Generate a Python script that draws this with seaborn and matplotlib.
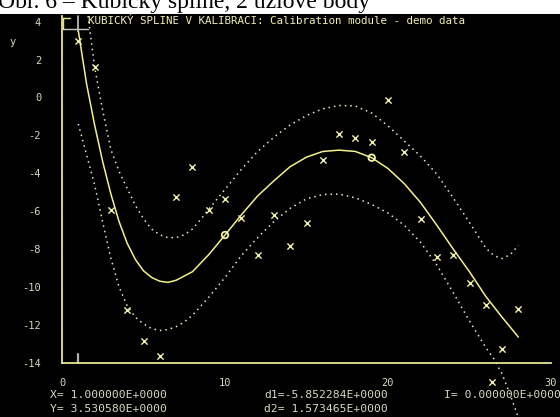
import matplotlib
matplotlib.use("Agg")
import matplotlib.pyplot as plt
import seaborn as sns
import pandas as pd
from matplotlib.patches import Rectangle

# ---------------- data ----------------
pts_x = [1, 2, 3, 4, 5, 6, 7, 8, 9, 10, 11, 12, 13, 14, 15, 16, 17, 18, 19, 20,
         21, 22, 23, 24, 25, 26, 26.4, 27, 28]
pts_y = [3.0, 1.62, -5.92, -11.23, -12.83, -13.65, -5.27, -3.69, -5.92, -5.36,
         -6.35, -8.32, -6.23, -7.83, -6.65, -3.32, -1.95, -2.14, -2.37, -0.14,
         -2.87, -6.4, -8.44, -8.3, -9.78, -10.98, -15.0, -13.26, -11.19]

spline_x = [1, 1.5, 2, 2.5, 3, 3.5, 4, 4.5, 5, 5.5, 6, 6.5, 7, 8, 9, 10, 11, 12,
            13, 14, 15, 16, 17, 18, 19, 20, 21, 22, 23, 24, 25, 26, 27, 28]
spline_y = [3.53, 0.75, -1.45, -3.4, -5.1, -6.55, -7.7, -8.55, -9.15, -9.5, -9.7,
            -9.76, -9.65, -9.2, -8.3, -7.26, -6.2, -5.2, -4.4, -3.65, -3.15, -2.85,
            -2.78, -2.85, -3.18, -3.75, -4.55, -5.55, -6.75, -8.0, -9.2, -10.5,
            -11.6, -12.65]

upper_x = [1.6, 2, 2.5, 3, 3.5, 4, 4.5, 5, 5.5, 6, 6.5, 7, 7.5, 8, 8.5, 9, 10, 11,
           12, 13, 14, 15, 16, 17, 18, 19, 20, 21, 22, 23, 24, 25, 26, 26.5, 27,
           27.5, 28]
upper_y = [4.3, 1.6, -0.7, -2.75, -3.9, -4.8, -5.7, -6.4, -6.95, -7.25, -7.4, -7.4,
           -7.25, -6.95, -6.45, -5.9, -4.85, -3.8, -2.85, -2.1, -1.45, -0.95, -0.6,
           -0.42, -0.45, -0.82, -1.5, -2.3, -3.1, -4.05, -5.3, -6.6, -7.95, -8.35,
           -8.5, -8.3, -7.8]

lower_x = [1, 1.5, 2, 2.5, 3, 3.5, 4, 4.5, 5, 5.5, 6, 6.5, 7, 7.5, 8, 9, 10, 11, 12,
           13, 14, 15, 16, 17, 18, 19, 20, 21, 22, 23, 24, 25, 26, 26.5, 27, 27.5, 28]
lower_y = [-1.4, -3.0, -4.6, -6.6, -8.5, -10.0, -11.0, -11.6, -11.95, -12.2, -12.3,
           -12.25, -12.1, -11.85, -11.5, -10.55, -9.5, -8.35, -7.4, -6.55, -5.85,
           -5.35, -5.12, -5.1, -5.3, -5.65, -6.1, -6.75, -7.65, -8.85, -10.3, -11.8,
           -13.2, -13.8, -14.6, -15.7, -16.9]

knot_x = [10, 19]
knot_y = [-7.26, -3.18]

x_ticks = [0, 10, 20, 30]
y_ticks = [-14, -12, -10, -8, -6, -4, -2, 0, 2, 4]

cursor_x = 1.0
title_top = "Obr. 6 – Kubický spline, 2 uzlové body"
title_plot = "KUBICKÝ SPLINE V KALIBRACI: Calibration module - demo data"
info_texts = ["X= 1.000000E+0000", "Y= 3.530580E+0000",
              "d1=-5.852284E+0000", "d2= 1.573465E+0000",
              "I= 0.000000E+0000"]

# ---------------- style ----------------
sns.set_style("dark")
plt.rcParams["font.family"] = ["DejaVu Sans Mono", "DejaVu Sans"]

W, H = 560, 417
AXC = "#e6e68c"
CURVE = "#f2f08a"
DOT = "#e8e8c8"
MARK = "#f4f2a8"
TXT = "#d8d8c0"

fig = plt.figure(figsize=(W / 100, H / 100), dpi=100, facecolor="black")

# white strip at top with cut-off caption
fig.patches.append(Rectangle((0, 1 - 14 / H), 1, 14 / H, transform=fig.transFigure,
                             facecolor="white", edgecolor="none", zorder=0))
fig.text(-2 / W, 1 - 8 / H, title_top, family=["Liberation Serif", "DejaVu Serif"],
         fontsize=17, color="black", va="baseline", ha="left", zorder=1)

left, right, top, bottom = 62, 551, 16, 362.7
ax = fig.add_axes([left / W, 1 - bottom / H, (right - left) / W, (bottom - top) / H])
ax.set_facecolor("black")
ax.set_xlim(0, 30)
ax.set_ylim(-14, 4.3)

df_pts = pd.DataFrame({"x": pts_x, "y": pts_y})
df_spl = pd.DataFrame({"x": spline_x, "y": spline_y})
df_up = pd.DataFrame({"x": upper_x, "y": upper_y})
df_lo = pd.DataFrame({"x": lower_x, "y": lower_y})
df_kn = pd.DataFrame({"x": knot_x, "y": knot_y})

sns.lineplot(data=df_spl, x="x", y="y", ax=ax, color=CURVE, lw=1.1, sort=False)
sns.lineplot(data=df_up, x="x", y="y", ax=ax, color=DOT, lw=1.1, sort=False,
             linestyle=(0, (1, 2.6)))
sns.lineplot(data=df_lo, x="x", y="y", ax=ax, color=DOT, lw=1.1, sort=False,
             linestyle=(0, (1, 2.6)))
ax.lines[-1].set_clip_on(False)
sns.scatterplot(data=df_pts, x="x", y="y", ax=ax, marker="x", s=20,
                color=MARK, linewidth=1.0, zorder=5)
for c in ax.collections:
    c.set_clip_on(False)
sns.scatterplot(data=df_kn, x="x", y="y", ax=ax, marker="o", s=22,
                facecolor="none", edgecolor=MARK, linewidth=1.3, zorder=6)

# cursor marks at X = cursor_x
ax.plot([cursor_x, cursor_x], [4.3, 3.5], color="#c8c8c8", lw=1.2, clip_on=False)
ax.plot([0.05, 1.6], [3.62, 3.62], color="#c8c8c8", lw=1.0, clip_on=False)
ax.plot([0.05, 0.05], [4.2, 3.62], color=AXC, lw=1.0, clip_on=False)
ax.plot([0.05, 0.5], [4.2, 4.2], color=AXC, lw=1.0, clip_on=False)
ax.plot([cursor_x, cursor_x], [-14, -13.55], color="#b0b0b0", lw=1.6, clip_on=False)

# axes styling
for s in ["top", "right"]:
    ax.spines[s].set_visible(False)
for s in ["left", "bottom"]:
    ax.spines[s].set_color(AXC)
    ax.spines[s].set_linewidth(1.3)
ax.set_xticks(x_ticks)
ax.set_yticks(y_ticks)
ax.set_xticklabels([str(v) for v in x_ticks])
ax.set_yticklabels([str(v) for v in y_ticks])
ax.tick_params(axis="both", direction="in", length=4, width=1, color=AXC,
               labelcolor=TXT, labelsize=7.5)
ax.tick_params(axis="y", pad=15)
ax.tick_params(axis="x", pad=11)
ax.set_xlabel("")
ax.set_ylabel("")
ax.grid(False)

fig.text(9 / W, 1 - 42 / H, "y", color=TXT, fontsize=7.5, va="center", ha="left")
fig.text(88 / W, 1 - 15.5 / H, title_plot, color="#f0f0b0", fontsize=7.8,
         va="top", ha="left")

fig.text(50 / W, 1 - 395 / H, info_texts[0], color=TXT, fontsize=8.2, va="center")
fig.text(50 / W, 1 - 409 / H, info_texts[1], color=TXT, fontsize=8.2, va="center")
fig.text(264 / W, 1 - 395 / H, info_texts[2], color=TXT, fontsize=8.2, va="center")
fig.text(264 / W, 1 - 409 / H, info_texts[3], color=TXT, fontsize=8.2, va="center")
fig.text(444 / W, 1 - 395 / H, info_texts[4], color=TXT, fontsize=8.2, va="center")

fig.savefig("out.png", dpi=100, facecolor="black")
